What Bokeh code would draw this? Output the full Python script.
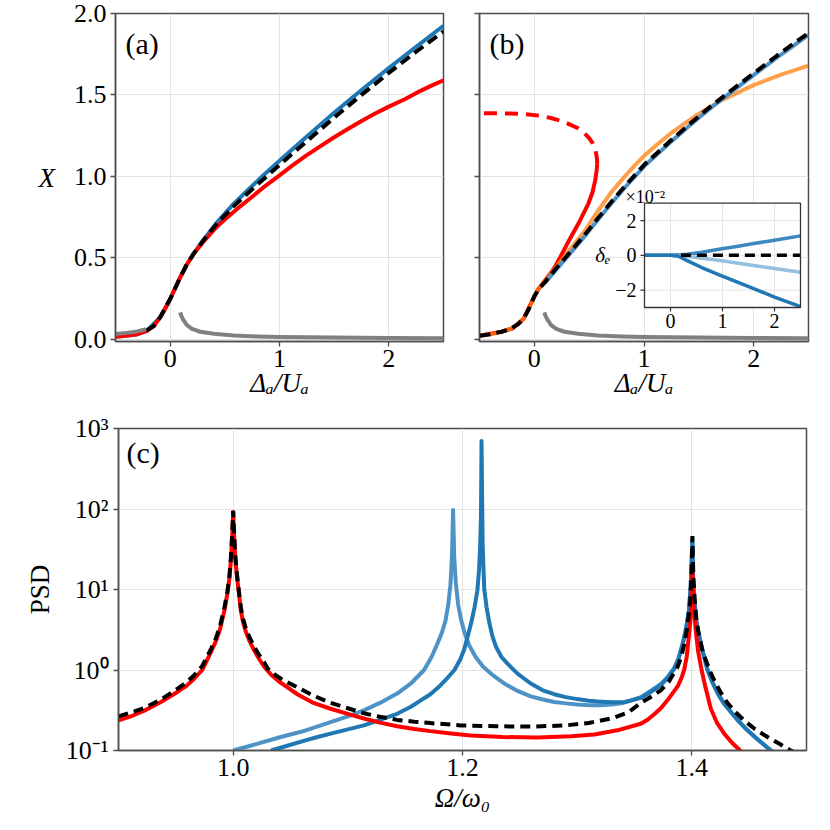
from bokeh.plotting import figure
from bokeh.models import Range1d, FixedTicker, Label, PrintfTickFormatter
from bokeh.layouts import column, row
from bokeh.embed import file_html
from bokeh.resources import INLINE
from bokeh.core.properties import value

# ---------------- data: panels (a) and (b) ----------------
ab_xlim = (-0.5, 2.5)
ab_ylim = (-0.015, 2.0)
ab_xticks = [0, 1, 2]
ab_yticks = [0, 0.5, 1, 1.5, 2]

a_red_x = [-0.5, -0.4, -0.3, -0.213, -0.15, -0.092, -0.05, 0.0, 0.05, 0.092, 0.15, 0.214, 0.3, 0.427,
           0.5, 0.58, 0.65, 0.733, 0.85, 1.0, 1.125, 1.25, 1.375, 1.5, 1.625, 1.75, 1.875, 2.0, 2.15,
           2.29, 2.4, 2.5]
a_red_y = [0.014, 0.02, 0.03, 0.051, 0.08, 0.133, 0.18, 0.246, 0.32, 0.379, 0.455, 0.523, 0.595, 0.69,
           0.735, 0.78, 0.82, 0.865, 0.93, 1.005, 1.07, 1.13, 1.185, 1.24, 1.29, 1.34, 1.385, 1.428, 1.475,
           1.525, 1.56, 1.59]

a_blue_x = [-0.5, -0.3, -0.213, -0.092, 0.0, 0.092, 0.15, 0.214, 0.3, 0.427, 0.58, 0.733, 0.85, 1.0,
            1.25, 1.5, 1.75, 2.0, 2.25, 2.5]
a_blue_y = [0.014, 0.03, 0.051, 0.133, 0.246, 0.379, 0.455, 0.525, 0.605, 0.715, 0.83, 0.93, 1.005, 1.095,
            1.245, 1.39, 1.53, 1.665, 1.795, 1.925]

a_black_x = [-0.22, -0.15, -0.092, 0.0, 0.092, 0.15, 0.214, 0.3, 0.427, 0.58, 0.733, 0.85, 1.0, 1.25,
             1.5, 1.75, 2.0, 2.25, 2.5]
a_black_y = [0.05, 0.08, 0.133, 0.246, 0.379, 0.455, 0.523, 0.603, 0.71, 0.815, 0.91, 0.98, 1.07, 1.215,
             1.36, 1.5, 1.635, 1.765, 1.89]

a_gray_left_x = [-0.5, -0.4, -0.3, -0.22]
a_gray_left_y = [0.031, 0.038, 0.047, 0.06]

gray_x = [0.092, 0.1, 0.12, 0.137, 0.153, 0.2, 0.275, 0.4, 0.58, 0.8, 1.0, 1.5, 2.0, 2.5]
gray_y = [0.164, 0.145, 0.118, 0.102, 0.085, 0.062, 0.045, 0.032, 0.022, 0.016, 0.013, 0.009, 0.007, 0.005]

b_red_solid_x = [-0.5, -0.3, -0.2, -0.1, 0.0, 0.036, 0.097, 0.16, 0.2, 0.234, 0.31, 0.401, 0.492, 0.53,
                 0.555, 0.568, 0.573]
b_red_solid_y = [0.02, 0.045, 0.065, 0.123, 0.262, 0.306, 0.36, 0.415, 0.458, 0.5, 0.598, 0.708, 0.831, 0.9,
                 0.975, 1.036, 1.075]
b_red_dash_x = [0.573, 0.572, 0.565, 0.553, 0.53, 0.5, 0.45, 0.4, 0.3, 0.234, 0.15, 0.05, -0.1, -0.22,
                -0.35, -0.5]
b_red_dash_y = [1.075, 1.1, 1.135, 1.17, 1.205, 1.235, 1.27, 1.295, 1.325, 1.342, 1.358, 1.372, 1.382, 1.386,
                1.387, 1.388]

b_orange_x = [-0.5, -0.4, -0.3, -0.221, -0.15, -0.1, -0.05, 0.0, 0.036, 0.097, 0.16, 0.219, 0.34, 0.462,
              0.583, 0.705, 0.826, 0.92, 1.008, 1.12, 1.236, 1.479, 1.7, 2.0, 2.25, 2.5]
b_orange_y = [0.02, 0.03, 0.045, 0.061, 0.09, 0.123, 0.185, 0.262, 0.308, 0.359, 0.41, 0.462, 0.564, 0.666,
              0.79, 0.905, 1.0, 1.07, 1.13, 1.195, 1.26, 1.375, 1.465, 1.56, 1.625, 1.68]

b_black_x = [-0.5, -0.4, -0.3, -0.221, -0.15, -0.1, -0.05, 0.0, 0.036, 0.097, 0.16, 0.219, 0.34, 0.462,
             0.583, 0.705, 0.826, 1.008, 1.236, 1.418, 1.6, 1.8, 2.0, 2.25, 2.5]
b_black_y = [0.02, 0.03, 0.045, 0.061, 0.09, 0.123, 0.185, 0.262, 0.302, 0.35, 0.402, 0.45, 0.545, 0.643,
             0.745, 0.845, 0.94, 1.075, 1.215, 1.322, 1.425, 1.53, 1.632, 1.76, 1.88]

b_blue_x = [0.097, 0.16, 0.219, 0.34, 0.462, 0.583, 0.705, 0.826, 1.008, 1.236, 1.418, 1.6, 1.8, 2.0,
            2.25, 2.5]
b_blue_y = [0.345, 0.395, 0.442, 0.536, 0.634, 0.736, 0.836, 0.931, 1.066, 1.206, 1.313, 1.415, 1.52, 1.622,
            1.748, 1.868]

# inset of (b), values in units of 1e-2
ins_xlim = (-0.5, 2.5)
ins_ylim = (-3, 3)
ins_xticks = [0, 1, 2]
ins_xlabels = ["0", "1", "2"]
ins_yticks = [-2, 0, 2]
ins_ylabels = ["\u22122", "0", "2"]
ins_up_x = [-0.5, 0.0, 0.32, 0.6, 0.96, 1.3, 1.6, 2.0, 2.5]
ins_up_y = [0, 0, 0.06, 0.18, 0.36, 0.52, 0.68, 0.87, 1.12]
ins_lt_x = [0.15, 0.5, 0.96, 1.3, 1.6, 2.0, 2.5]
ins_lt_y = [0, -0.12, -0.3, -0.45, -0.585, -0.76, -0.97]
ins_dk_x = [-0.5, 0.0, 0.15, 0.32, 0.6, 0.96, 1.3, 1.6, 2.0, 2.5]
ins_dk_y = [0, 0, -0.05, -0.3, -0.7, -1.15, -1.55, -1.91, -2.4, -2.95]
ins_ref_x = [0.2, 2.5]
ins_ref_y = [0, 0]

# ---------------- data: panel (c) ----------------
c_xlim = (0.9, 1.5)
c_ylim = (0.1, 1000)
c_xticks = [1.0, 1.2, 1.4]
c_yticks = [0.1, 1, 10, 100, 1000]
c_ylabels = ["10\u207b\u00b9", "10\u2070", "10\u00b9", "10\u00b2", "10\u00b3"]

c_red_x = [0.900, 0.912, 0.923, 0.937, 0.951, 0.959, 0.966, 0.973, 0.9805, 0.985, 0.9885, 0.9924, 0.995,
           0.9968, 0.9982, 0.9993, 1.000, 1.0007, 1.0018, 1.0032, 1.005, 1.0067, 1.0085, 1.011, 1.0145,
           1.0183, 1.0225, 1.027, 1.0329, 1.040, 1.048, 1.056, 1.070, 1.085, 1.100, 1.114, 1.128, 1.143,
           1.158, 1.172, 1.190, 1.207, 1.235, 1.265, 1.295, 1.315, 1.335, 1.3555, 1.362, 1.367, 1.373,
           1.3787, 1.3835, 1.388, 1.391, 1.3933, 1.3955, 1.3975, 1.3988, 1.3998, 1.4005, 1.4013, 1.4022,
           1.4035, 1.4055, 1.4085, 1.412, 1.4166, 1.422, 1.4282, 1.435, 1.4421, 1.45]
c_red_y = [0.236, 0.27, 0.315, 0.40, 0.53, 0.63, 0.78, 1.0, 1.65, 2.3, 3.2, 5.5, 9,
           14, 25, 50, 92, 50, 25, 15, 9, 5.5, 4.0, 3.0, 2.25,
           1.76, 1.38, 1.1, 0.88, 0.72, 0.6, 0.5, 0.39, 0.33, 0.285, 0.25, 0.222, 0.2,
           0.185, 0.174, 0.163, 0.154, 0.147, 0.145, 0.15, 0.158, 0.178, 0.215, 0.245, 0.28, 0.335,
           0.42, 0.52, 0.64, 0.8, 1.0, 1.45, 2.7, 4.2, 8, 20, 9, 5,
           3.0, 1.7, 1.0, 0.6, 0.33, 0.22, 0.162, 0.125, 0.1, 0.08]

c_black_x = [0.900, 0.912, 0.923, 0.937, 0.951, 0.959, 0.966, 0.973, 0.9805, 0.985, 0.9885, 0.9924, 0.995,
             0.9968, 0.9982, 0.9993, 1.000, 1.0007, 1.0018, 1.0032, 1.005, 1.0067, 1.0085, 1.011, 1.0145,
             1.0183, 1.0225, 1.027, 1.030, 1.037, 1.045, 1.056, 1.070, 1.085, 1.100, 1.114, 1.128, 1.143,
             1.158, 1.172, 1.1985, 1.230, 1.260, 1.290, 1.310, 1.330, 1.345, 1.3555, 1.365, 1.373, 1.380,
             1.3875, 1.391, 1.394, 1.3965, 1.3985, 1.3997, 1.4005, 1.4013, 1.4025, 1.404, 1.406, 1.409,
             1.4122, 1.416, 1.420, 1.425, 1.431, 1.438, 1.4456, 1.455, 1.466, 1.476, 1.4863, 1.495]
c_black_y = [0.265, 0.30, 0.34, 0.43, 0.58, 0.70, 0.86, 1.12, 1.8, 2.5, 3.5, 6, 9.5,
             15, 27, 55, 95, 55, 27, 16, 9.5, 6, 4.4, 3.3, 2.5,
             1.95, 1.55, 1.25, 1.05, 0.86, 0.73, 0.61, 0.48, 0.39, 0.335, 0.29, 0.262, 0.24,
             0.228, 0.219, 0.205, 0.2, 0.198, 0.205, 0.22, 0.25, 0.3, 0.39, 0.47, 0.56, 0.72,
             1.09, 1.5, 2.3, 3.8, 7, 15, 46, 15, 7.5, 4.2, 2.8, 1.8,
             1.32, 0.95, 0.72, 0.53, 0.39, 0.3, 0.236, 0.185, 0.147, 0.122, 0.1, 0.088]

c_lb_x = [1.000, 1.020, 1.0416, 1.060, 1.085, 1.100, 1.114, 1.128, 1.143, 1.155, 1.1665, 1.173, 1.178,
          1.182, 1.185, 1.1875, 1.1895, 1.1908, 1.1918, 1.1928, 1.1942, 1.1962, 1.1988, 1.2018, 1.206,
          1.2115, 1.218, 1.227, 1.2363, 1.248, 1.2595, 1.270, 1.280, 1.290, 1.300, 1.310, 1.320, 1.330,
          1.340, 1.3475, 1.3555, 1.364, 1.373, 1.379, 1.3845, 1.3885, 1.392, 1.395, 1.3975, 1.399,
          1.4005, 1.401, 1.4025, 1.404, 1.406, 1.4095, 1.4137, 1.418, 1.423, 1.4282, 1.435, 1.441,
          1.4485, 1.458, 1.469, 1.475]
c_lb_y = [0.1, 0.12, 0.147, 0.172, 0.225, 0.265, 0.315, 0.39, 0.51, 0.68, 1.0, 1.45, 2.1,
          2.9, 4.0, 6.3, 11.5, 25, 97, 25, 12, 6.5, 4.2, 2.9, 2.0,
          1.45, 1.1, 0.85, 0.68, 0.55, 0.47, 0.43, 0.40, 0.385, 0.372, 0.365, 0.365, 0.372,
          0.39, 0.42, 0.46, 0.55, 0.67, 0.82, 1.05, 1.4, 2.1, 3.3, 5.5, 11,
          38, 13, 6.5, 4.0, 2.8, 1.7, 1.0, 0.7, 0.5, 0.38, 0.29, 0.23,
          0.178, 0.135, 0.1, 0.09]

c_db_x = [1.033, 1.045, 1.060, 1.072, 1.085, 1.100, 1.114, 1.128, 1.143, 1.155, 1.1636, 1.172, 1.180,
          1.187, 1.193, 1.198, 1.2015, 1.2044, 1.2075, 1.2105, 1.213, 1.2145, 1.2154, 1.2161, 1.2166,
          1.2175, 1.2182, 1.219, 1.221, 1.2235, 1.2262, 1.2295, 1.234, 1.2392, 1.248, 1.2595, 1.270,
          1.280, 1.290, 1.300, 1.310, 1.3185, 1.330, 1.3415, 1.3555, 1.364, 1.373, 1.379, 1.3845, 1.3885,
          1.392, 1.395, 1.3975, 1.399, 1.4005, 1.401, 1.4025, 1.404, 1.406, 1.4095, 1.4137, 1.418,
          1.423, 1.4282, 1.435, 1.441, 1.4485, 1.458, 1.469, 1.475]
c_db_y = [0.1, 0.112, 0.13, 0.145, 0.162, 0.183, 0.205, 0.24, 0.286, 0.35, 0.42, 0.5, 0.63,
          0.8, 1.0, 1.35, 1.8, 2.58, 3.8, 6, 9.8, 18, 34, 80, 700,
          40, 20, 10, 6, 3.8, 2.6, 1.9, 1.45, 1.2, 0.9, 0.68, 0.56,
          0.5, 0.46, 0.435, 0.415, 0.405, 0.398, 0.40, 0.45, 0.53, 0.65, 0.8, 1.03, 1.4,
          2.1, 3.3, 5.5, 11, 42, 13, 6.5, 4.0, 2.8, 1.7, 1.0, 0.7,
          0.5, 0.38, 0.29, 0.23, 0.178, 0.135, 0.1, 0.09]

# ---------------- styling ----------------
FONT = "Liberation Serif"
RED = "#ff0000"
BLUE = "#1f77b4"
BLUE_B = "#4b91c8"
BLUE_LIGHT = "#4d93c6"
ORANGE = "#ff7f0e"
GRAY = "#808080"
FRAME = "#4d4d4d"
LW = 4

FA_W, FA_H = 328, 328
FB_W, FB_H = 329, 328
FC_W, FC_H = 688, 322


def style(p):
    p.outline_line_color = FRAME
    p.outline_line_width = 1.5
    p.grid.grid_line_color = "#e4e4e4"
    p.grid.grid_line_width = 1
    for ax in p.axis:
        ax.axis_line_color = FRAME
        ax.axis_line_width = 1.5
        ax.major_tick_line_color = FRAME
        ax.major_tick_line_width = 1.3
        ax.major_tick_out = 5
        ax.major_tick_in = 0
        ax.minor_tick_line_color = None
        ax.major_label_text_font = FONT
        ax.major_label_text_font_size = "26px"
        ax.major_label_text_color = "black"
        ax.axis_label_text_font = FONT
        ax.axis_label_text_font_size = "27px"
        ax.axis_label_text_color = "black"
    p.xaxis.major_label_standoff = 3
    p.yaxis.major_label_standoff = 4
    p.xaxis.axis_label_standoff = -2


def panel_label(p, text, xlim, ylim, fw, fh, dx, dy):
    p.add_layout(Label(x=xlim[0] + dx * (xlim[1] - xlim[0]) / fw,
                       y=ylim[1] - dy * (ylim[1] - ylim[0]) / fh,
                       text=text, text_font=FONT, text_font_size="30px",
                       text_baseline="middle", text_align="left", text_color="black"))


# ---------------- panel (a) ----------------
pa = figure(x_range=Range1d(*ab_xlim), y_range=Range1d(*ab_ylim),
            frame_width=FA_W, frame_height=FA_H,
            min_border_left=115, min_border_right=10, min_border_top=13, min_border_bottom=72,
            output_backend="svg", toolbar_location=None)
style(pa)
pa.xaxis.ticker = FixedTicker(ticks=ab_xticks)
pa.yaxis.ticker = FixedTicker(ticks=ab_yticks)
pa.yaxis.formatter = PrintfTickFormatter(format="%.1f")
pa.xaxis.axis_label = "\u0394\u2090/U\u2090"

yax = pa.yaxis[0]
if "axis_label_orientation" in yax.properties():
    yax.axis_label = "X"
    yax.axis_label_orientation = "horizontal"
    yax.axis_label_standoff = 16
else:
    pa.add_layout(Label(x=ab_xlim[0], y=1.0, x_offset=-70, text="X", text_font=FONT,
                        text_font_size="27px", text_font_style="italic",
                        text_align="center", text_baseline="middle", text_color="black"))

pa.line(a_blue_x, a_blue_y, line_color=BLUE, line_width=LW, line_join="round")
pa.line(a_red_x, a_red_y, line_color=RED, line_width=LW, line_join="round")
pa.line(a_black_x, a_black_y, line_color="black", line_width=LW, line_dash="11 6")
pa.line(a_gray_left_x, a_gray_left_y, line_color=GRAY, line_width=LW, line_join="round")
pa.line(gray_x, gray_y, line_color=GRAY, line_width=LW, line_join="round")
panel_label(pa, "(a)", ab_xlim, ab_ylim, FA_W, FA_H, 10, 30)

# ---------------- panel (b) ----------------
pb = figure(x_range=Range1d(*ab_xlim), y_range=Range1d(*ab_ylim),
            frame_width=FB_W, frame_height=FB_H,
            min_border_left=26, min_border_right=6, min_border_top=13, min_border_bottom=72,
            output_backend="svg", toolbar_location=None)
style(pb)
pb.xaxis.ticker = FixedTicker(ticks=ab_xticks)
pb.yaxis.ticker = FixedTicker(ticks=ab_yticks)
pb.yaxis.major_label_overrides = {t: "" for t in ab_yticks}
pb.xaxis.axis_label = "\u0394\u2090/U\u2090"

pb.line(b_red_solid_x, b_red_solid_y, line_color=RED, line_width=LW, line_join="round")
pb.line(b_red_dash_x, b_red_dash_y, line_color=RED, line_width=LW, line_dash="13 8")
pb.line(b_orange_x, b_orange_y, line_color=ORANGE, line_alpha=0.75, line_width=LW, line_join="round")
pb.line(b_blue_x, b_blue_y, line_color=BLUE_B, line_width=LW, line_join="round")
pb.line(b_black_x, b_black_y, line_color="black", line_width=LW, line_dash="11 6")
pb.line(gray_x, gray_y, line_color=GRAY, line_width=LW, line_join="round")
panel_label(pb, "(b)", ab_xlim, ab_ylim, FB_W, FB_H, 10, 30)

# inset inside (b): own ranges mapped onto a sub-box of the frame
IN_L, IN_R, IN_T, IN_B = 165, 321, 189.7, 294   # px from frame left / top
isx = (IN_R - IN_L) / (ins_xlim[1] - ins_xlim[0])
isy = (IN_B - IN_T) / (ins_ylim[1] - ins_ylim[0])
pb.extra_x_ranges = {"ix": Range1d(ins_xlim[0] - IN_L / isx, ins_xlim[1] + (FB_W - IN_R) / isx)}
pb.extra_y_ranges = {"iy": Range1d(ins_ylim[0] - (FB_H - IN_B) / isy, ins_ylim[1] + IN_T / isy)}
R = dict(x_range_name="ix", y_range_name="iy")

pb.quad(left=[ins_xlim[0]], right=[ins_xlim[1]], bottom=[ins_ylim[0]], top=[ins_ylim[1]],
        fill_color="white", line_color=None, **R)
pb.segment(x0=ins_xticks, y0=[ins_ylim[0]] * 3, x1=ins_xticks, y1=[ins_ylim[1]] * 3,
           line_color="#e4e4e4", line_width=1, **R)
pb.segment(x0=[ins_xlim[0]] * 3, y0=ins_yticks, x1=[ins_xlim[1]] * 3, y1=ins_yticks,
           line_color="#e4e4e4", line_width=1, **R)
pb.line(ins_up_x, ins_up_y, line_color="#3b88c3", line_width=3.5, line_join="round", **R)
pb.line(ins_lt_x, ins_lt_y, line_color="#93bfe0", line_width=3.5, line_join="round", **R)
pb.line(ins_dk_x, ins_dk_y, line_color=BLUE, line_width=3.5, line_join="round", **R)
pb.line(ins_ref_x, ins_ref_y, line_color="black", line_width=3.5, line_dash="10 6", **R)
pb.quad(left=[ins_xlim[0]], right=[ins_xlim[1]], bottom=[ins_ylim[0]], top=[ins_ylim[1]],
        fill_color=None, line_color="#333333", line_width=1.3, **R)
# inset ticks
tkx = 4 / isx
tky = 4 / isy
pb.segment(x0=[ins_xlim[0]] * 3, y0=ins_yticks, x1=[ins_xlim[0] - tkx] * 3, y1=ins_yticks,
           line_color="#333333", line_width=1.2, **R)
pb.segment(x0=ins_xticks, y0=[ins_ylim[0]] * 3, x1=ins_xticks, y1=[ins_ylim[0] - tky] * 3,
           line_color="#333333", line_width=1.2, **R)
pb.text(x=[ins_xlim[0]] * 3, y=ins_yticks, text=ins_ylabels, x_offset=-8,
        text_align="right", text_baseline="middle", text_font=value(FONT),
        text_font_size="20px", text_color="black", **R)
pb.text(x=ins_xticks, y=[ins_ylim[0] - 6 / isy] * 3, text=ins_xlabels,
        text_align="center", text_baseline="top", text_font=value(FONT),
        text_font_size="20px", text_color="black", **R)
pb.add_layout(Label(x=ins_xlim[0], y=0, x_offset=-34, text="\u03b4\u2091", text_font=FONT,
                    text_font_size="21px", text_font_style="italic", text_align="right",
                    text_baseline="middle", text_color="black", **R))
pb.add_layout(Label(x=ins_xlim[0], y=ins_ylim[1] + 6 / isy, x_offset=-19, text="\u00d710\u207b\u00b2",
                    text_font=FONT, text_font_size="18px", text_align="left",
                    text_baseline="alphabetic", text_color="black", **R))

# ---------------- panel (c) ----------------
pc = figure(x_range=Range1d(*c_xlim), y_range=Range1d(*c_ylim), y_axis_type="log",
            frame_width=FC_W, frame_height=FC_H,
            min_border_left=118, min_border_right=5, min_border_top=15, min_border_bottom=70,
            output_backend="svg", toolbar_location=None)
style(pc)
pc.xaxis.ticker = FixedTicker(ticks=c_xticks)
pc.xaxis.formatter = PrintfTickFormatter(format="%.1f")
pc.xaxis.axis_label_standoff = 4
pc.yaxis.ticker = FixedTicker(ticks=c_yticks)
pc.yaxis.major_label_overrides = dict(zip(c_yticks, c_ylabels))
pc.yaxis.major_label_standoff = 5
pc.xaxis.axis_label = "\u03a9/\u03c9\u2080"
pc.yaxis.axis_label = "PSD"
pc.yaxis.axis_label_text_font_style = "normal"
pc.yaxis.axis_label_standoff = 8

pc.line(c_lb_x, c_lb_y, line_color=BLUE_LIGHT, line_width=LW, line_join="round")
pc.line(c_db_x, c_db_y, line_color=BLUE, line_width=LW, line_join="round")
pc.line(c_red_x, c_red_y, line_color=RED, line_width=LW, line_join="round")
pc.line(c_black_x, c_black_y, line_color="black", line_width=LW, line_dash="10 6")
pc.add_layout(Label(x=c_xlim[0] + 8 * (c_xlim[1] - c_xlim[0]) / FC_W, y=1000, y_offset=-24,
                    text="(c)", text_font=FONT, text_font_size="30px",
                    text_baseline="middle", text_align="left", text_color="black"))

layout = column(row(pa, pb), pc)
open("out.html", "w").write(file_html(layout, INLINE))
